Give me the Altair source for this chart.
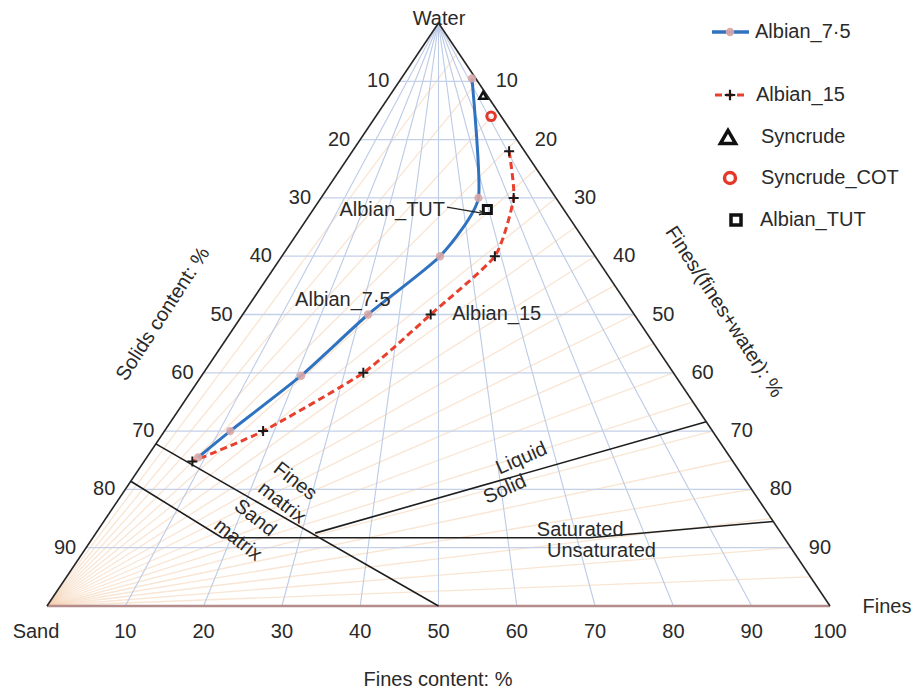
import altair as alt
import pandas as pd

FONT = "Liberation Sans"
TXT = "#2a2a2a"
FS = 20

# ---------------------------------------------------------------- values
# Grid ticks (%)
tick_values = [10, 20, 30, 40, 50, 60, 70, 80, 90]
base_ticks = [10, 20, 30, 40, 50, 60, 70, 80, 90, 100]
ratio_lines = list(range(5, 100, 5))  # fines/(fines+water) guide lines

# Tailings paths: solids content (%) and fines content (% of solids)
albian75_solids = [9.5, 30, 40, 50, 60.5, 70, 74.5]
albian75_fines = [95, 67, 50.5, 32, 21, 12, 8.8]

albian15_solids = [22, 30, 40, 50, 60, 70, 75.2]
albian15_fines = [91, 82, 68, 48, 34, 18, 8.2]

# Single samples: (solids %, fines %)
syncrude = (12.4, 96)
syncrude_cot = (16, 92)
albian_tut = (32, 69.5)

# Region boundaries
fines_matrix_solids = [72.2, 100]
fines_matrix_fines = [0, 50]
sand_matrix_solids = [78.6, 88.3]
sand_matrix_fines = [0, 18.7]
saturation_solids = [88.3, 88.3, 85.5]
saturation_fines = [18.7, 71.9, 100]
liquid_solids = [87.5, 68.4]
liquid_fines = [32, 100]


def tx(s, f):
    """Ternary (solids %, fines % of solids) -> position along the base (0..100)."""
    return 50 + s * (f - 50) / 100.0


XS = alt.Scale(domain=[0, 100], nice=False, zero=False)
YS = alt.Scale(domain=[0, 100], nice=False, zero=False, reverse=True)


def rules(df, **mk):
    return alt.Chart(df).mark_rule(**mk).encode(
        x=alt.X("x:Q", scale=XS, axis=None),
        y=alt.Y("y:Q", scale=YS, axis=None),
        x2="x2:Q",
        y2="y2:Q",
    )


def path_df(name, solids, fines):
    return pd.DataFrame({
        "name": name,
        "i": list(range(len(solids))),
        "x": [tx(s, f) for s, f in zip(solids, fines)],
        "y": solids,
    })


def path(df, **mk):
    return alt.Chart(df).mark_line(**mk).encode(
        x=alt.X("x:Q", scale=XS, axis=None),
        y=alt.Y("y:Q", scale=YS, axis=None),
        order="i:Q",
        detail="name:N",
    )


def points(df, **mk):
    opts = dict(opacity=1)
    opts.update(mk)
    return alt.Chart(df).mark_point(**opts).encode(
        x=alt.X("x:Q", scale=XS, axis=None),
        y=alt.Y("y:Q", scale=YS, axis=None),
    )


def label_at(text, s, f, **mk):
    df = pd.DataFrame({"x": [tx(s, f)], "y": [s]})
    return alt.Chart(df).mark_text(text=text, font=FONT, fontSize=FS, color=TXT, **mk).encode(
        x=alt.X("x:Q", scale=XS, axis=None),
        y=alt.Y("y:Q", scale=YS, axis=None),
    )


one = pd.DataFrame({"k": [0]})


def px_text(text, x, y, **mk):
    opts = dict(font=FONT, fontSize=FS, color=TXT)
    opts.update(mk)
    return alt.Chart(one).mark_text(text=text, **opts).encode(x=alt.value(x), y=alt.value(y))


def px_point(x, y, **mk):
    opts = dict(opacity=1)
    opts.update(mk)
    return alt.Chart(one).mark_point(**opts).encode(x=alt.value(x), y=alt.value(y))


# ---------------------------------------------------------------- grid
orange_df = pd.DataFrame({
    "x": [0.0] * len(ratio_lines),
    "y": [100.0] * len(ratio_lines),
    "x2": [50 + w / 2 for w in ratio_lines],
    "y2": ratio_lines,
})
fan_df = pd.DataFrame({
    "x": [50.0] * len(tick_values),
    "y": [0.0] * len(tick_values),
    "x2": tick_values,
    "y2": [100.0] * len(tick_values),
})
horiz_df = pd.DataFrame({
    "x": [50 - s / 2 for s in tick_values],
    "y": tick_values,
    "x2": [50 + s / 2 for s in tick_values],
    "y2": tick_values,
})
side_df = pd.DataFrame({"x": [50, 50], "y": [0, 0], "x2": [0, 100], "y2": [100, 100]})
base_df = pd.DataFrame({"x": [0], "y": [100], "x2": [100], "y2": [100]})

orange = rules(orange_df, color="#f4cfae", strokeWidth=1.3, opacity=0.55)
fan = rules(fan_df, color="#bccbe6", strokeWidth=1.1)
horiz = rules(horiz_df, color="#c3d0e8", strokeWidth=1.3)
sides = rules(side_df, color="#262626", strokeWidth=1.6)
base = rules(base_df, color="#b58c8c", strokeWidth=2.6)

# ---------------------------------------------------------------- region lines
regions_df = pd.concat([
    path_df("fines_matrix", fines_matrix_solids, fines_matrix_fines),
    path_df("sand_matrix", sand_matrix_solids, sand_matrix_fines),
    path_df("saturation", saturation_solids, saturation_fines),
    path_df("liquid", liquid_solids, liquid_fines),
])
regions = path(regions_df, color="#1e1e1e", strokeWidth=1.6)

# ---------------------------------------------------------------- data
a75 = path_df("Albian_7·5", albian75_solids, albian75_fines)
a15 = path_df("Albian_15", albian15_solids, albian15_fines)

a15_line = path(a15, color="#e8402c", strokeWidth=3, strokeDash=[7, 4], interpolate="cardinal", tension=0.45)
a75_line = path(a75, color="#2f73c0", strokeWidth=3, interpolate="cardinal", tension=0.45)
a75_pts = points(a75, shape="circle", filled=True, fill="#d8a7a7", opacity=0.9, size=70, strokeWidth=0)
PLUS = "M-1,0L1,0M0,-1L0,1"
a15_pts = points(a15, shape=PLUS, filled=False, stroke="#1a1a1a", strokeWidth=2, size=100)


def single(sample):
    return pd.DataFrame({"x": [tx(sample[0], sample[1])], "y": [sample[0]]})


syn_pt = points(single(syncrude), shape="triangle-up", filled=False, stroke="#111", strokeWidth=2.5, size=60)
cot_pt = points(single(syncrude_cot), shape="circle", filled=False, stroke="#e3382a", strokeWidth=3, size=75)
tut_pt = points(single(albian_tut), shape="square", filled=False, stroke="#111", strokeWidth=3, size=65)

# annotation arrow for Albian_TUT
arrow_df = pd.DataFrame({"x": [tx(31.6, 53.4)], "y": [31.6], "x2": [tx(32.6, 67)], "y2": [32.6]})
arrow = rules(arrow_df, color="#222", strokeWidth=1.3)
head = points(pd.DataFrame({"x": [tx(32.6, 67)], "y": [32.6]}),
              shape="M-1,-0.8L1,0L-1,0.8", filled=False, stroke="#222", strokeWidth=1.3, size=30, angle=8)

# ---------------------------------------------------------------- tick labels
left_df = pd.DataFrame({"x": [50 - s / 2 for s in tick_values], "y": tick_values,
                        "t": [str(v) for v in tick_values]})
right_df = pd.DataFrame({"x": [50 + s / 2 for s in tick_values], "y": tick_values,
                         "t": [str(v) for v in tick_values]})
bottom_df = pd.DataFrame({"x": base_ticks, "y": [100] * len(base_ticks),
                          "t": [str(v) for v in base_ticks]})


def tick_text(df, **mk):
    return alt.Chart(df).mark_text(font=FONT, fontSize=FS, color=TXT, **mk).encode(
        x=alt.X("x:Q", scale=XS, axis=None),
        y=alt.Y("y:Q", scale=YS, axis=None),
        text="t:N",
    )


left_ticks = tick_text(left_df, align="right", baseline="middle", dx=-10)
right_ticks = tick_text(right_df, align="left", baseline="middle", dx=18)
bottom_ticks = tick_text(bottom_df, align="center", baseline="middle", dy=26)

# ---------------------------------------------------------------- annotations
ann = [
    label_at("Albian_TUT", 32.1, 52.6, align="right", baseline="middle"),
    label_at("Albian_7·5", 47.5, 24.3, align="center", baseline="middle"),
    label_at("Albian_15", 49.9, 64.9, align="center", baseline="middle"),
    label_at("Fines", 78.6, 26.7, align="center", baseline="middle", angle=38),
    label_at("matrix", 82.3, 25.7, align="center", baseline="middle", angle=38),
    label_at("Sand", 84.9, 22.4, align="center", baseline="middle", angle=38),
    label_at("matrix", 88.7, 21.1, align="center", baseline="middle", angle=38),
    label_at("Liquid", 74.7, 64.2, align="center", baseline="middle", angle=336),
    label_at("Solid", 80.0, 60.6, align="center", baseline="middle", angle=336),
    label_at("Saturated", 87.0, 70.8, align="center", baseline="middle"),
    label_at("Unsaturated", 90.5, 73.0, align="center", baseline="middle"),
]

titles = [
    px_text("Water", 392, -4, align="center", baseline="middle"),
    px_text("Sand", -11, 609, align="center", baseline="middle"),
    px_text("Fines", 840, 584, align="center", baseline="middle"),
    px_text("Fines content: %", 391, 657, align="center", baseline="middle"),
    px_text("Solids content: %", 116, 291, align="center", baseline="middle", angle=303),
    px_text("Fines/(fines+water): %", 677, 289, align="center", baseline="middle", angle=57),
]

# ---------------------------------------------------------------- legend
LX = 683
legend = [
    alt.Chart(one).mark_rule(color="#2f73c0", strokeWidth=3.5).encode(
        x=alt.value(665), x2=alt.value(702), y=alt.value(9)),
    px_point(LX, 9, shape="circle", filled=True, fill="#d8a7a7", size=70, opacity=0.95),
    px_text("Albian_7·5", 708, 9, align="left", baseline="middle"),
    alt.Chart(one).mark_rule(color="#e8402c", strokeWidth=3, strokeDash=[7, 4]).encode(
        x=alt.value(668), x2=alt.value(699), y=alt.value(72)),
    px_point(LX, 72, shape=PLUS, filled=False, stroke="#1a1a1a", strokeWidth=2.2, size=110),
    px_text("Albian_15", 709, 72, align="left", baseline="middle"),
    px_point(681, 114, shape="triangle-up", filled=False, stroke="#111", strokeWidth=3.5, size=230),
    px_text("Syncrude", 714, 114, align="left", baseline="middle"),
    px_point(683, 155, shape="circle", filled=False, stroke="#e3382a", strokeWidth=3.5, size=120),
    px_text("Syncrude_COT", 714, 155, align="left", baseline="middle"),
    px_point(689, 197, shape="square", filled=False, stroke="#111", strokeWidth=3.5, size=100),
    px_text("Albian_TUT", 713, 197, align="left", baseline="middle"),
]

chart = alt.layer(
    orange, fan, horiz, base, sides, regions,
    a15_line, a75_line, a75_pts, a15_pts, syn_pt, cot_pt, tut_pt, arrow, head,
    left_ticks, right_ticks, bottom_ticks, *ann, *titles, *legend,
).properties(
    width=783,
    height=583,
    autosize="none",
    padding={"left": 47, "top": 23, "right": 85, "bottom": 87},
    background="white",
).configure_view(stroke=None)

chart.save("out.html", embed_options={"renderer": "svg", "actions": False})
